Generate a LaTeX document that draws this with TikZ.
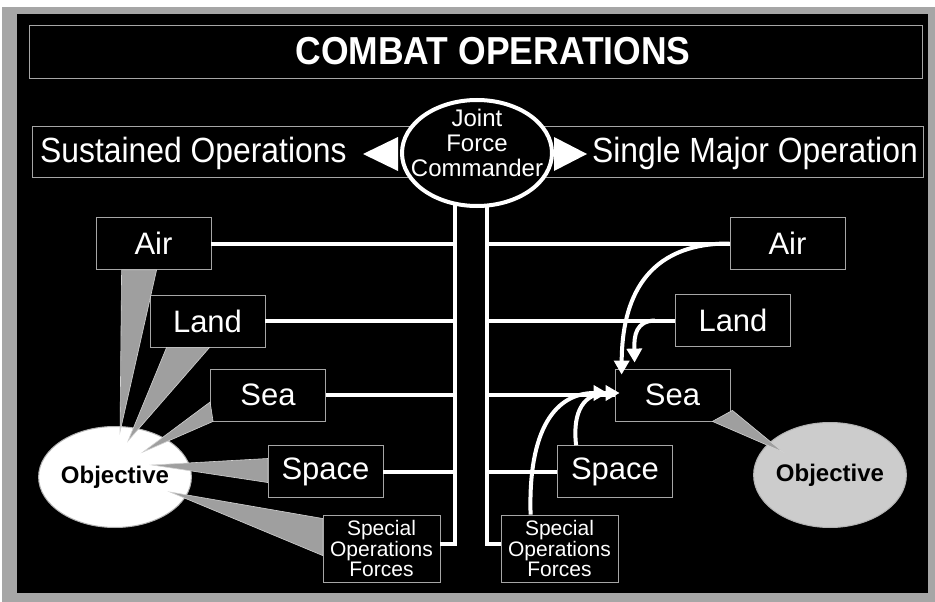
\documentclass[tikz,border=0pt]{standalone}
\usepackage{fontspec}
\setmainfont{Liberation Sans}
\newfontfamily\narrowsf[FakeStretch=0.91]{Liberation Sans}
\usetikzlibrary{arrows.meta,positioning,shapes.geometric}

\begin{document}
\begin{tikzpicture}[x=1pt,y=-1pt,
 every node/.style={align=center},
 bar/.style={fill=black,draw=gray!70,line width=0.8pt},
 force/.style={bar,text=white,minimum width=115,minimum height=52,inner sep=0pt,font=\fontsize{31}{33}\selectfont},
 sof/.style={force,minimum width=117,minimum height=67,font=\fontsize{21}{17.5}\selectfont},
 goal/.style={ellipse,draw=gray!60,line width=1pt,minimum width=131,minimum height=101,inner sep=0pt,font=\bfseries\fontsize{24}{26}\selectfont},
 optext/.style={text=white,inner sep=0pt,font=\narrowsf\fontsize{35}{37}\selectfont},
 wire/.style={draw=white,line width=4pt},
 feed/.style={wire,-{Triangle[width=15pt,length=14pt]}},
 wedge/.style={fill=gray!75,draw=gray!35,line width=0.6pt}]
\useasboundingbox (0,0) rectangle (935,602);
\fill[gray!70] (2,7) rectangle (935,602);
\fill[black] (17,14) rectangle (928,593);
\node[bar,minimum width=893,minimum height=53] (titleBar) at (476,52) {};
\node[text=white,inner sep=0pt,font=\narrowsf\bfseries\fontsize{39}{41}\selectfont] (title) at (493,51) {COMBAT OPERATIONS};
\node[bar,minimum width=891,minimum height=51] (ops) at (477.5,151.5) {};
\node[optext,anchor=base west] (sustained) at (40,162) {Sustained Operations};
\node[optext,anchor=base east] (single) at (918,162) {Single Major Operation};
\fill[white] (363,154) -- (398,137) -- (398,171) -- cycle;
\fill[white] (587,154) -- (554,137) -- (554,171) -- cycle;

\node[force] (airL) at (153.5,243.5) {Air};
\node[force] (landL) at (207.5,321) {Land};
\node[force] (seaL) at (268,395) {Sea};
\node[force] (spaceL) at (325.5,471.5) {Space};
\node[sof] (sofL) at (381.5,548.5) {Special\\Operations\\Forces};
\node[force] (airR) at (787.5,243.5) {Air};
\node[force] (landR) at (733,320.5) {Land};
\node[force] (seaR) at (672.5,395) {Sea};
\node[force] (spaceR) at (615,471.5) {Space};
\node[sof] (sofR) at (559.5,548.5) {Special\\Operations\\Forces};
\node[goal,fill=white] (objL) at (115,477) {Objective};
\node[goal,fill=gray!40,minimum width=134,minimum height=105] (objR) at (830,475) {Objective};

\coordinate (trunkL) at (455,200);
\coordinate (trunkR) at (487,200);
\draw[wire] (trunkL) |- ([shift={(0,-5)}]sofL.east);
\draw[wire] (trunkR) |- ([shift={(0,-5)}]sofR.west);
\draw[wire] (airL.east) -- (airL.east -| trunkL);
\draw[wire] (landL.east) -- (landL.east -| trunkL);
\draw[wire] (seaL.east) -- (seaL.east -| trunkL);
\draw[wire] (spaceL.east) -- (spaceL.east -| trunkL);
\draw[wire] (trunkR |- airR.west) -- (airR.west);
\draw[wire] (trunkR |- landR.west) -- (landR.west);
\draw[wire] (trunkR |- seaR.west) -- (seaR.west);
\draw[wire] (trunkR |- spaceR.west) -- (spaceR.west);
\node[ellipse,draw=white,line width=4pt,fill=black,minimum width=150,minimum height=106] (jfc) at (477,153) {};
\node[text=white,inner sep=0pt,font=\fontsize{24}{25}\selectfont] (jfcText) at ([shift={(0,-10)}]jfc.center) {Joint\\Force\\Commander};

\fill[wedge] ([shift={(26,0)}]airL.south west) -- ([shift={(61,0)}]airL.south west) -- ([shift={(5,-45)}]objL.center) -- cycle;
\fill[wedge] ([shift={(17,0)}]landL.south west) -- ([shift={(60,0)}]landL.south west) -- ([shift={(13,-36)}]objL.center) -- cycle;
\fill[wedge] ([shift={(0,7)}]seaL.west) -- ([shift={(3,0)}]seaL.south west) -- ([shift={(28,-25)}]objL.center) -- cycle;
\fill[wedge] ([shift={(0,-13)}]spaceL.west) -- ([shift={(0,11)}]spaceL.west) -- ([shift={(37,-12)}]objL.center) -- cycle;
\fill[wedge] ([shift={(0,-30)}]sofL.west) -- ([shift={(0,7)}]sofL.west) -- ([shift={(55,15)}]objL.center) -- cycle;
\fill[wedge] ([shift={(2,-11)}]seaR.south east) -- ([shift={(-18,0)}]seaR.south east) -- ([shift={(-47,-23)}]objR.center) -- cycle;

\coordinate (landTap) at ([shift={(-20,0)}]landR.west);
\draw[feed] (airR.west) .. controls (645,243) and (622,300) .. ([shift={(7,6)}]seaR.north west);
\draw[feed] (landTap) .. controls (636,321) and (634,335) .. ([shift={(20,-6)}]seaR.north west);
\draw[feed] ([shift={(30,0)}]sofR.north west) .. controls (528,430) and (555,393) .. ([shift={(-7,-2)}]seaR.west);
\draw[feed] ([shift={(19,0)}]spaceR.north west) .. controls (572,410) and (585,393) .. ([shift={(5,-2)}]seaR.west);
\end{tikzpicture}
\end{document}
